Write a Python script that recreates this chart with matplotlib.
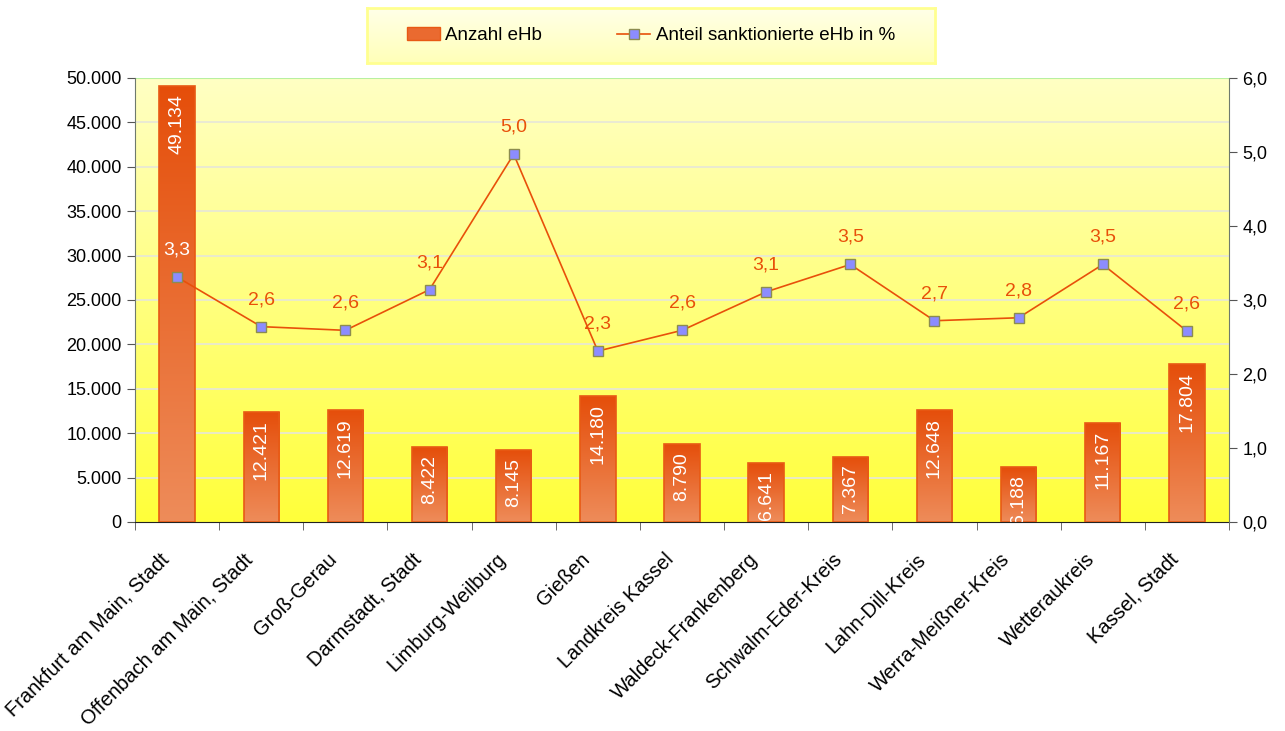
import numpy as np
import matplotlib
matplotlib.use("Agg")
import matplotlib.pyplot as plt
from matplotlib.colors import LinearSegmentedColormap
from matplotlib.lines import Line2D
from matplotlib.patches import Patch
from matplotlib.ticker import FuncFormatter, FixedLocator

regions = ["Frankfurt am Main, Stadt", "Offenbach am Main, Stadt", "Groß-Gerau",
           "Darmstadt, Stadt", "Limburg-Weilburg", "Gießen", "Landkreis Kassel",
           "Waldeck-Frankenberg", "Schwalm-Eder-Kreis", "Lahn-Dill-Kreis",
           "Werra-Meißner-Kreis", "Wetteraukreis", "Kassel, Stadt"]
anzahl = [49134, 12421, 12619, 8422, 8145, 14180, 8790, 6641, 7367, 12648, 6188, 11167, 17804]
anteil = [3.31, 2.64, 2.59, 3.14, 4.97, 2.31, 2.59, 3.11, 3.48, 2.72, 2.76, 3.48, 2.58]

plt.rcParams["font.family"] = ["Liberation Sans", "DejaVu Sans"]

fig = plt.figure(figsize=(12.85, 7.31), dpi=100)
ax = fig.add_axes([135 / 1285, 1 - 522 / 731, 1094 / 1285, 444 / 731])
ax2 = ax.twinx()

x = np.arange(len(regions))
ax.set_xlim(-0.5, len(regions) - 0.5)
ax.set_ylim(0, 50000)
ax2.set_ylim(0, 6)

# yellow gradient background
bg = LinearSegmentedColormap.from_list("bg", ["#FFFF3A", "#FFFFC4"])
grad = np.linspace(0, 1, 256).reshape(-1, 1)
ax.imshow(grad, cmap=bg, origin="lower", aspect="auto",
          extent=[-0.5, len(regions) - 0.5, 0, 50000], zorder=0)

for v in range(5000, 50001, 5000):
    ax.axhline(v, color="#E6E6D8", lw=1.2, zorder=1)

# bars with gradient fill
barcm = LinearSegmentedColormap.from_list("bar", ["#EE8C5A", "#E54E0A"])
bars = ax.bar(x, anzahl, width=0.42, facecolor="none", edgecolor="#E85A14",
              lw=1.2, zorder=3)
for b in bars:
    x0, y0, w, h = b.get_x(), b.get_y(), b.get_width(), b.get_height()
    im = ax.imshow(grad, cmap=barcm, origin="lower", aspect="auto",
                   extent=[x0, x0 + w, y0, y0 + h], zorder=2)
    im.set_clip_path(b)
ax.set_xlim(-0.5, len(regions) - 0.5)
ax.set_ylim(0, 50000)

for xi, v in zip(x, anzahl):
    ax.text(xi, v - 900, f"{v:,}".replace(",", "."), rotation=90, ha="center",
            va="top", color="white", fontsize=14, zorder=4, clip_on=True)

# line on secondary axis
ax2.plot(x, anteil, color="#E8500A", lw=1.2, marker="s", markersize=7,
         markerfacecolor="#8C8CFF", markeredgecolor="#8C8C50", zorder=5)
for xi, v, n in zip(x, anteil, anzahl):
    inside = n / 50000 * 6 > v + 0.3
    ax2.text(xi, v + 0.25, f"{v:.1f}".replace(".", ","), ha="center", va="bottom",
             color="white" if inside else "#E8500A", fontsize=14, zorder=6)
ax2.set_zorder(ax.get_zorder() + 1)
ax2.patch.set_visible(False)

# axes formatting
ax.yaxis.set_major_formatter(FuncFormatter(lambda v, p: f"{int(v):,}".replace(",", ".")))
ax.set_yticks(range(0, 50001, 5000))
ax2.set_yticks(np.arange(0, 6.01, 1))
ax2.yaxis.set_major_formatter(FuncFormatter(lambda v, p: f"{v:.1f}".replace(".", ",")))
ax.set_xticks(x)
ax.set_xticklabels([])
for xi, name in zip(x, regions):
    ax.annotate(name, (xi, 0), xycoords=("data", "axes fraction"),
                xytext=(-13, -20), textcoords="offset points", rotation=45,
                ha="right", va="top", rotation_mode="anchor", fontsize=14.5,
                annotation_clip=False)
ax.xaxis.set_minor_locator(FixedLocator(np.arange(-0.5, len(regions), 1)))
ax.tick_params(axis="x", which="major", length=0)
ax.tick_params(axis="x", which="minor", length=6, color="#555555")
ax.tick_params(axis="y", labelsize=13, length=6, color="#555555")
ax2.tick_params(axis="y", labelsize=13, length=6, color="#555555")

for a in (ax, ax2):
    for s in a.spines.values():
        s.set_visible(False)
ax.spines["left"].set_visible(True)
ax.spines["left"].set_color("#6E7A6E")
ax.spines["bottom"].set_visible(True)
ax.spines["bottom"].set_color("#222222")
ax2.spines["right"].set_visible(True)
ax2.spines["right"].set_color("#6E7A6E")
ax.axhline(50000, color="#B8F0A0", lw=1.5, zorder=1)

# legend box
lax = fig.add_axes([367 / 1285, 1 - 63 / 731, 568 / 1285, 55 / 731])
lax.imshow(grad, cmap=LinearSegmentedColormap.from_list("lg", ["#FFFFB8", "#FFFFE8"]),
           origin="lower", aspect="auto", extent=[0, 1, 0, 1])
lax.set_xlim(0, 1)
lax.set_ylim(0, 1)
lax.set_xticks([])
lax.set_yticks([])
for s in lax.spines.values():
    s.set_color("#FFFF90")
    s.set_linewidth(2)
handles = [Patch(facecolor="#EA6A30", edgecolor="#E85A14"),
           Line2D([0], [0], color="#E8500A", lw=1.2, marker="s", markersize=7,
                  markerfacecolor="#8C8CFF", markeredgecolor="#8C8C50")]
lax.legend(handles, ["Anzahl eHb", "Anteil sanktionierte eHb in %"], loc="center",
           ncol=2, frameon=False, fontsize=13.5, columnspacing=4.0,
           handlelength=1.75, handletextpad=0.3)

fig.savefig("out.png", dpi=100)
